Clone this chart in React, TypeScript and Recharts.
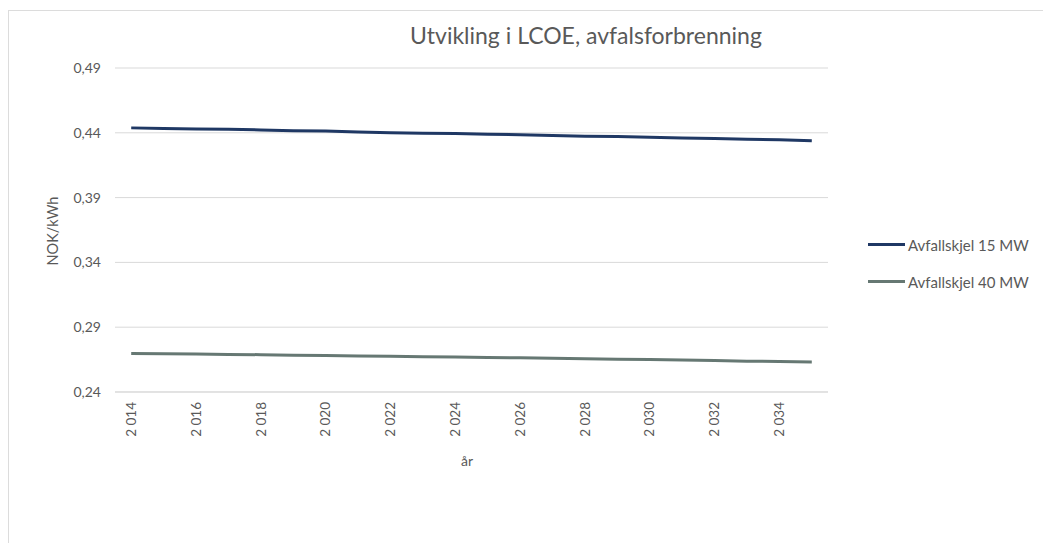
import React from "react";
import { LineChart, Line, XAxis, YAxis, CartesianGrid } from "recharts";

const years = [2014, 2015, 2016, 2017, 2018, 2019, 2020, 2021, 2022, 2023, 2024, 2025, 2026, 2027, 2028, 2029, 2030, 2031, 2032, 2033, 2034, 2035];
const mw15 = [0.4438, 0.4433, 0.4429, 0.4428, 0.4422, 0.4416, 0.4413, 0.4407, 0.4401, 0.4397, 0.4394, 0.4388, 0.4385, 0.4379, 0.4373, 0.4371, 0.4365, 0.4359, 0.4356, 0.435, 0.4346, 0.4338];
const mw40 = [0.2698, 0.2695, 0.2694, 0.269, 0.2688, 0.2684, 0.2682, 0.2678, 0.2676, 0.2672, 0.267, 0.2666, 0.2664, 0.266, 0.2657, 0.2653, 0.2651, 0.2646, 0.2644, 0.2638, 0.2635, 0.2632];
const yTicks = [0.24, 0.29, 0.34, 0.39, 0.44, 0.49];

const seriesNames = ["Avfallskjel 15 MW", "Avfallskjel 40 MW"];
const seriesColors = ["#1f3864", "#667873"];

const title = "Utvikling i LCOE, avfalsforbrenning";
const xTitle = "år";
const yTitle = "NOK/kWh";

const data = years.map((y, i) => ({ year: y, s15: mw15[i], s40: mw40[i] }));
const keys = ["s15", "s40"];

const FONT = "Lato, 'Open Sans', sans-serif";
const TXT = "#595959";

const fmtYear = (y: number) => `${Math.floor(y / 1000)} ${String(y % 1000).padStart(3, "0")}`;

const XTick = (props: any) => {
  const { x, y, payload } = props;
  return (
    <g transform={`translate(${x},${y})`}>
      <text transform="rotate(-90)" textAnchor="end" dy="0.35em" fill={TXT} fontSize={13.5} fontFamily={FONT}>
        {fmtYear(Number(payload.value))}
      </text>
    </g>
  );
};

export default function App() {
  return (
    <div style={{ position: "relative", width: 1035, height: 535, overflow: "hidden", background: "#fff" }}>
      <div
        style={{
          position: "absolute",
          left: 0,
          top: 2,
          width: 1200,
          height: 700,
          borderLeft: "1px solid #dcdcdc",
          borderTop: "1px solid #dcdcdc",
        }}
      />
      <div style={{ position: "absolute", left: 0, top: 0 }}>
        <LineChart width={1035} height={535} data={data} margin={{ top: 60, right: 215, bottom: 121, left: 47 }}>
          <CartesianGrid horizontal vertical={false} stroke="#d9d9d9" />
          <XAxis
            dataKey="year"
            type="category"
            scale="band"
            interval={1}
            height={30}
            tickLine={false}
            tickSize={0}
            tickMargin={10}
            axisLine={{ stroke: "#d9d9d9" }}
            tick={<XTick />}
          />
          <YAxis
            type="number"
            domain={[0.24, 0.49]}
            ticks={yTicks}
            width={60}
            axisLine={false}
            tickLine={false}
            tickSize={0}
            tickMargin={14}
            tickFormatter={(v: number) => v.toFixed(2).replace(".", ",")}
            tick={{ fill: TXT, fontSize: 14, fontFamily: FONT }}
          />
          {keys.map((k, i) => (
            <Line
              key={k}
              dataKey={k}
              name={seriesNames[i]}
              stroke={seriesColors[i]}
              strokeWidth={3}
              dot={false}
              activeDot={false}
              type="linear"
              isAnimationActive={false}
            />
          ))}
        </LineChart>
      </div>
      <div
        style={{
          position: "absolute",
          left: 578 - 300,
          width: 600,
          top: 13,
          textAlign: "center",
          fontFamily: FONT,
          fontSize: 23,
          color: TXT,
          lineHeight: "28px",
        }}
      >
        {title}
      </div>
      <div
        style={{
          position: "absolute",
          left: 459 - 50,
          width: 100,
          top: 444,
          textAlign: "center",
          fontFamily: FONT,
          fontSize: 14,
          color: TXT,
          lineHeight: "18px",
        }}
      >
        {xTitle}
      </div>
      <div
        style={{
          position: "absolute",
          left: 45 - 50,
          top: 223 - 9,
          width: 100,
          textAlign: "center",
          fontFamily: FONT,
          fontSize: 14.5,
          color: TXT,
          lineHeight: "18px",
          transform: "rotate(-90deg)",
        }}
      >
        {yTitle}
      </div>
      <div style={{ position: "absolute", left: 860, top: 218, fontFamily: FONT, fontSize: 15, color: TXT }}>
        {seriesNames.map((n, i) => (
          <div key={n} style={{ display: "flex", alignItems: "center", height: 37 }}>
            <div style={{ width: 37, height: 3, background: seriesColors[i], marginRight: 3 }} />
            <span>{n}</span>
          </div>
        ))}
      </div>
    </div>
  );
}
